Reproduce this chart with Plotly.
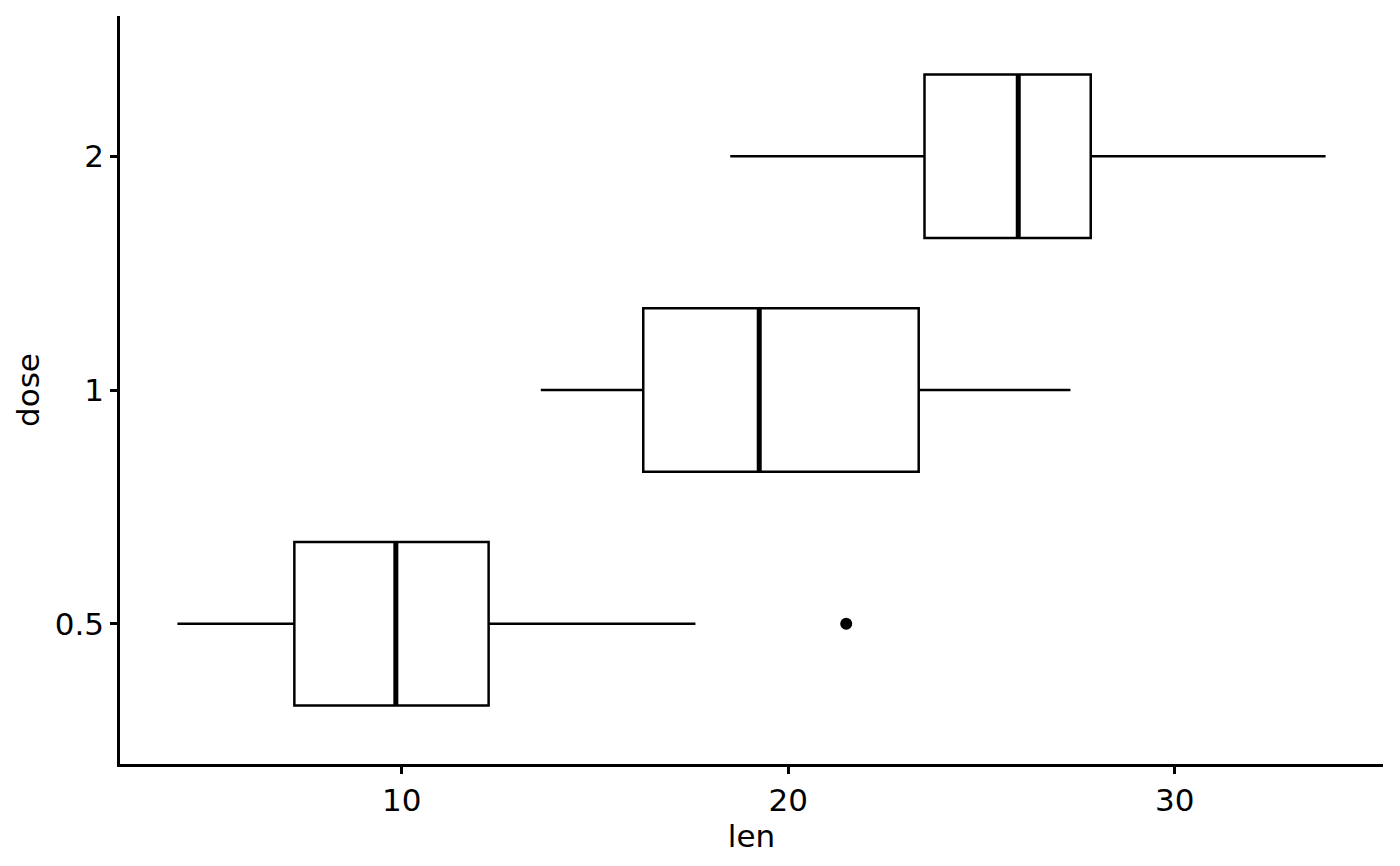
import plotly.graph_objects as go

# ToothGrowth: len by dose, box stats
doses = ["0.5", "1", "2"]
positions = [1, 2, 3]
q1 = [7.225, 16.25, 23.525]
medians = [9.85, 19.25, 25.95]
q3 = [12.25, 23.375, 27.825]
lower = [4.2, 13.6, 18.5]
upper = [17.6, 27.3, 33.9]
outlier_x = [21.5]
outlier_pos = [1]

box_w = 0.7
font = dict(family="DejaVu Sans", size=31, color="black")

fig = go.Figure()
fig.add_trace(go.Box(
    y=positions, q1=q1, median=medians, q3=q3,
    lowerfence=lower, upperfence=upper,
    orientation="h", width=box_w, whiskerwidth=0,
    fillcolor="white", line=dict(color="black", width=2.5),
    boxpoints=False, hoverinfo="skip", showlegend=False))

# thicker median lines like ggplot
mx, my = [], []
for m, p in zip(medians, positions):
    mx += [m, m, None]
    my += [p - box_w / 2, p + box_w / 2, None]
fig.add_trace(go.Scatter(x=mx, y=my, mode="lines",
                         line=dict(color="black", width=5),
                         showlegend=False, hoverinfo="skip"))

fig.add_trace(go.Scatter(x=outlier_x, y=outlier_pos, mode="markers",
                         marker=dict(color="black", size=12),
                         showlegend=False))

axis_common = dict(showline=True, linecolor="black", linewidth=2.5,
                   ticks="outside", ticklen=7, tickwidth=2.5, tickcolor="black",
                   showgrid=False, zeroline=False, tickfont=font)

fig.update_xaxes(range=[2.715, 35.385], tickvals=[10, 20, 30],
                 title=dict(text="len", font=font, standoff=0), **axis_common)
fig.update_yaxes(range=[0.4, 3.6], tickvals=positions, ticktext=doses,
                 title=dict(text="dose", font=font, standoff=6), **axis_common)

fig.update_layout(width=1400, height=866, plot_bgcolor="white",
                  paper_bgcolor="white", font=font,
                  margin=dict(l=120, r=17, t=16, b=102))

fig.write_html("out.html", config={"displayModeBar": False},
               post_script="document.body.style.margin='0px';")
